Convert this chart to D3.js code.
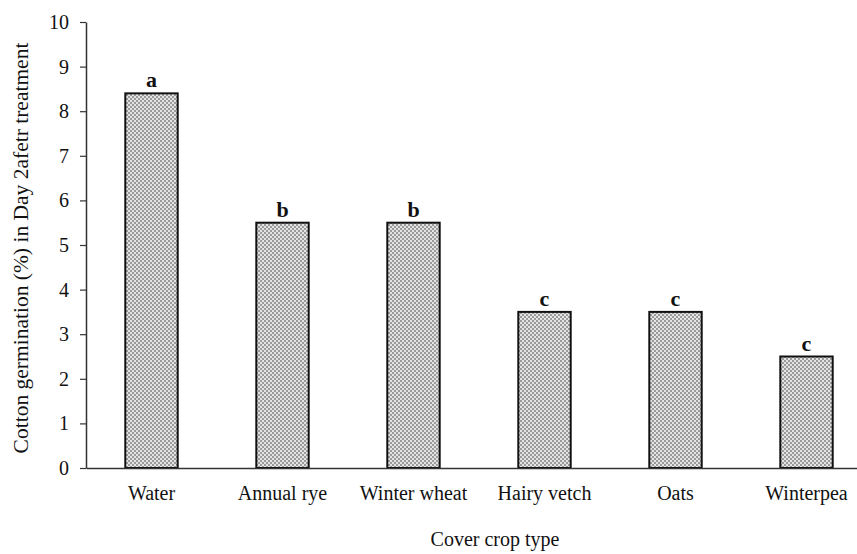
<!DOCTYPE html>
<html lang="en">
<meta charset="utf-8">
<style>
body { margin: 0; background: #fff; }
text { font-family: "Liberation Serif", "DejaVu Serif", serif; fill: #111; }
</style>
<body>
<script src="https://d3js.org/d3.v7.min.js"></script>
<div id="chart"></div>
<script>
// data
var crops = ["Water", "Annual rye", "Winter wheat", "Hairy vetch", "Oats", "Winterpea"];
var germination = [8.4, 5.5, 5.5, 3.5, 3.5, 2.5];
var letters = ["a", "b", "b", "c", "c", "c"];
var yTicks = [0, 1, 2, 3, 4, 5, 6, 7, 8, 9, 10];

var width = 857, height = 554;
var plotLeft = 86, plotRight = 872, plotTop = 22, plotBottom = 468;

var svg = d3.select("#chart").append("svg")
    .attr("width", width)
    .attr("height", height);

// dotted grey fill like the original
var defs = svg.append("defs");
var pat = defs.append("pattern")
    .attr("id", "dots")
    .attr("width", 4).attr("height", 4)
    .attr("patternUnits", "userSpaceOnUse");
pat.append("rect").attr("width", 4).attr("height", 4).attr("fill", "#e4e4e4");
pat.append("rect").attr("x", 0).attr("y", 0).attr("width", 2).attr("height", 2).attr("fill", "#9a9a9a");
pat.append("rect").attr("x", 2).attr("y", 2).attr("width", 2).attr("height", 2).attr("fill", "#9a9a9a");

var x = d3.scaleBand()
    .domain(crops)
    .range([plotLeft, plotRight])
    .paddingInner(0.6)
    .paddingOuter(0.3);

var y = d3.scaleLinear()
    .domain([0, 10])
    .range([plotBottom, plotTop]);

// y axis
var yAxis = svg.append("g")
    .attr("transform", "translate(" + plotLeft + ",0)")
    .call(d3.axisLeft(y).tickValues(yTicks).tickSize(6).tickPadding(11).tickSizeOuter(0));
yAxis.select(".domain").attr("stroke", "#333").attr("stroke-width", 1.5);
yAxis.selectAll(".tick line").attr("stroke", "#333").attr("stroke-width", 1.2);
yAxis.selectAll(".tick text")
    .style("font-family", "Liberation Serif")
    .style("font-size", "20px")
    .attr("fill", "#111");

// bars
svg.selectAll(".bar")
    .data(crops)
  .enter().append("rect")
    .attr("class", "bar")
    .attr("x", function(d) { return x(d); })
    .attr("y", function(d, i) { return y(germination[i]); })
    .attr("width", x.bandwidth())
    .attr("height", function(d, i) { return y(0) - y(germination[i]); })
    .attr("fill", "url(#dots)")
    .attr("stroke", "#111")
    .attr("stroke-width", 2);

// significance letters
svg.selectAll(".letter")
    .data(crops)
  .enter().append("text")
    .attr("class", "letter")
    .attr("x", function(d) { return x(d) + x.bandwidth() / 2; })
    .attr("y", function(d, i) { return y(germination[i]) - 6; })
    .attr("text-anchor", "middle")
    .style("font-size", "22px")
    .style("font-weight", "bold")
    .text(function(d, i) { return letters[i]; });

// x axis
var xAxis = svg.append("g")
    .attr("transform", "translate(0," + plotBottom + ")")
    .call(d3.axisBottom(x).tickSize(0).tickPadding(18).tickSizeOuter(0));
xAxis.select(".domain").attr("stroke", "#333").attr("stroke-width", 1.5);
xAxis.selectAll(".tick text")
    .style("font-family", "Liberation Serif")
    .style("font-size", "20px")
    .attr("fill", "#111");

// axis titles
svg.append("text")
    .attr("x", 495)
    .attr("y", 546)
    .attr("text-anchor", "middle")
    .style("font-size", "20px")
    .text("Cover crop type");

svg.append("text")
    .attr("transform", "translate(28,248) rotate(-90)")
    .attr("text-anchor", "middle")
    .style("font-size", "21.5px")
    .text("Cotton germination (%) in Day 2afetr treatment");
</script>
</body>
</html>
